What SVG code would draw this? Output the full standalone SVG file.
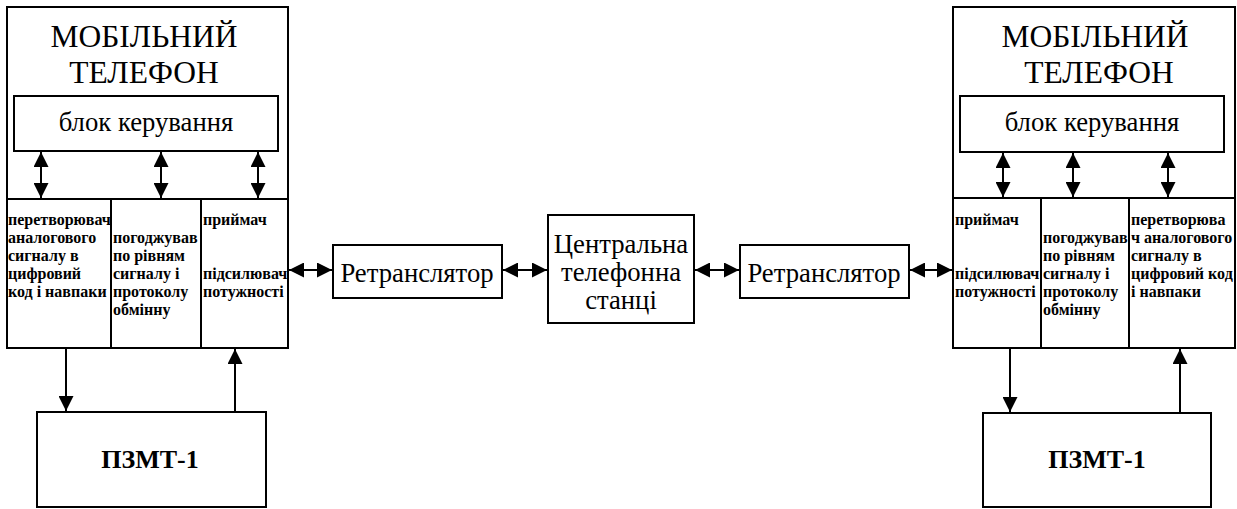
<svg xmlns="http://www.w3.org/2000/svg" width="1237" height="509" viewBox="0 0 1237 509">
  <style>
    .box { fill: #fff; stroke: #000; stroke-width: 2; }
    .div { stroke: #000; stroke-width: 2; fill: none; }
    .conn { stroke: #000; stroke-width: 2; fill: none; marker-end: url(#head); }
    .dbl { marker-start: url(#head); }
    text { font-family: "Liberation Serif", "Times New Roman", serif; }
    .title { font-size: 31.5px; text-anchor: middle; }
    .lbl { font-size: 26.7px; text-anchor: middle; }
    .small { font-size: 16px; font-weight: bold; }
    .pz { font-size: 26px; font-weight: bold; text-anchor: middle; }
  </style>
  <defs>
    <marker id="head" viewBox="0 0 15 15" refX="15" refY="7.5" markerWidth="15" markerHeight="15" markerUnits="userSpaceOnUse" orient="auto-start-reverse">
      <path d="M0,0 L15,7.5 L0,15 z" fill="#000"/>
    </marker>
  </defs>

  <rect width="1237" height="509" fill="#fff"/>

  <!-- left handset -->
  <g id="phone-left">
    <rect class="box" x="7" y="7" width="281" height="341"/>
    <text class="title" x="144" y="47">МОБІЛЬНИЙ</text>
    <text class="title" x="144" y="83">ТЕЛЕФОН</text>
    <line class="div" x1="7" y1="199" x2="288" y2="199"/>
    <line class="div" x1="111" y1="199" x2="111" y2="348"/>
    <line class="div" x1="201" y1="199" x2="201" y2="348"/>
  </g>
  <g id="control-left">
    <rect class="box" x="14" y="96" width="264" height="55"/>
    <text class="lbl" x="146" y="131">блок керування</text>
  </g>
  <g id="adc-left">
    <text class="small" x="8" y="225">перетворювач</text>
    <text class="small" x="8" y="243">аналогового</text>
    <text class="small" x="8" y="261">сигналу в</text>
    <text class="small" x="8" y="279">цифровий</text>
    <text class="small" x="8" y="297">код і навпаки</text>
  </g>
  <g id="match-left">
    <text class="small" x="113" y="243">погоджував</text>
    <text class="small" x="113" y="261">по рівням</text>
    <text class="small" x="113" y="279">сигналу і</text>
    <text class="small" x="113" y="297">протоколу</text>
    <text class="small" x="113" y="315">обмінну</text>
  </g>
  <g id="rx-left">
    <text class="small" x="203" y="225">приймач</text>
    <text class="small" x="203" y="279">підсилювач</text>
    <text class="small" x="203" y="297">потужності</text>
  </g>
  <g id="pzmt-left">
    <rect class="box" x="37" y="412" width="229" height="95"/>
    <text class="pz" x="150" y="468">ПЗМТ-1</text>
  </g>

  <!-- relays and exchange -->
  <g id="relay-left">
    <rect class="box" x="333" y="245" width="169" height="53"/>
    <text class="lbl" x="417" y="282">Ретранслятор</text>
  </g>
  <g id="exchange">
    <rect class="box" x="548" y="215" width="146" height="108"/>
    <text class="lbl" x="621" y="253">Центральна</text>
    <text class="lbl" x="621" y="281">телефонна</text>
    <text class="lbl" x="621" y="309">станці</text>
  </g>
  <g id="relay-right">
    <rect class="box" x="740" y="245" width="169" height="53"/>
    <text class="lbl" x="824" y="282">Ретранслятор</text>
  </g>

  <!-- right handset -->
  <g id="phone-right">
    <rect class="box" x="953" y="7" width="282" height="341"/>
    <text class="title" x="1095" y="47">МОБІЛЬНИЙ</text>
    <text class="title" x="1099" y="83">ТЕЛЕФОН</text>
    <line class="div" x1="953" y1="198" x2="1235" y2="198"/>
    <line class="div" x1="1041" y1="198" x2="1041" y2="348"/>
    <line class="div" x1="1129" y1="198" x2="1129" y2="348"/>
  </g>
  <g id="control-right">
    <rect class="box" x="960" y="96" width="264" height="56"/>
    <text class="lbl" x="1092" y="131">блок керування</text>
  </g>
  <g id="rx-right">
    <text class="small" x="955" y="225">приймач</text>
    <text class="small" x="955" y="279">підсилювач</text>
    <text class="small" x="955" y="297">потужності</text>
  </g>
  <g id="match-right">
    <text class="small" x="1043" y="243">погоджував</text>
    <text class="small" x="1043" y="261">по рівням</text>
    <text class="small" x="1043" y="279">сигналу і</text>
    <text class="small" x="1043" y="297">протоколу</text>
    <text class="small" x="1043" y="315">обмінну</text>
  </g>
  <g id="adc-right">
    <text class="small" x="1131" y="225">перетворюва</text>
    <text class="small" x="1131" y="243">ч аналогового</text>
    <text class="small" x="1131" y="261">сигналу в</text>
    <text class="small" x="1131" y="279">цифровий код</text>
    <text class="small" x="1131" y="297">і навпаки</text>
  </g>
  <g id="pzmt-right">
    <rect class="box" x="983" y="413" width="228" height="94"/>
    <text class="pz" x="1097" y="468">ПЗМТ-1</text>
  </g>

  <!-- connectors -->
  <g id="connectors">
    <line class="conn dbl" x1="41" y1="152" x2="41" y2="198"/>
    <line class="conn dbl" x1="161" y1="152" x2="161" y2="198"/>
    <line class="conn dbl" x1="258" y1="152" x2="258" y2="198"/>
    <line class="conn dbl" x1="1003" y1="153" x2="1003" y2="197"/>
    <line class="conn dbl" x1="1073" y1="153" x2="1073" y2="197"/>
    <line class="conn dbl" x1="1168" y1="153" x2="1168" y2="197"/>

    <line class="conn dbl" x1="289" y1="270" x2="332" y2="270"/>
    <line class="conn dbl" x1="503" y1="270" x2="547" y2="270"/>
    <line class="conn dbl" x1="695" y1="270" x2="739" y2="270"/>
    <line class="conn dbl" x1="910" y1="270" x2="952" y2="270"/>

    <line class="conn" x1="66" y1="349" x2="66" y2="411"/>
    <line class="conn" x1="235" y1="411" x2="235" y2="349"/>
    <line class="conn" x1="1010" y1="349" x2="1010" y2="412"/>
    <line class="conn" x1="1180" y1="412" x2="1180" y2="349"/>
  </g>
</svg>
